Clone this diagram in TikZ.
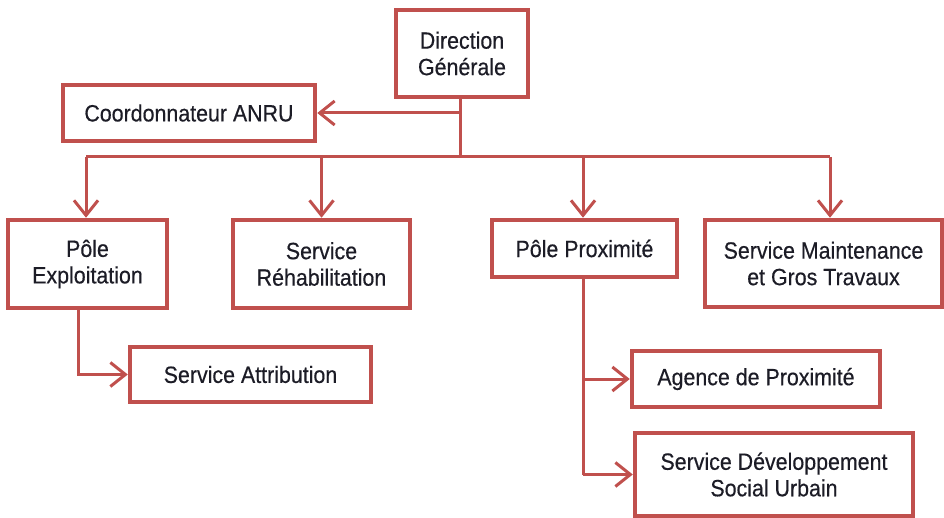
\documentclass[tikz,border=0pt]{standalone}
\usepackage{fontspec}
\setmainfont[FakeStretch=0.91,FakeBold=0.4]{Liberation Sans}
\usetikzlibrary{arrows.meta}
\definecolor{boxred}{HTML}{C0504D}
\definecolor{inktext}{HTML}{1C1C26}
\tikzset{
  unit/.style={draw=boxred, line width=4.5pt, fill=white, text=inktext,
    align=center, inner sep=0pt, font=\fontsize{23.5}{26.5}\selectfont},
  conn/.style={draw=boxred, line width=3pt},
  arr/.style={conn, -{Straight Barb[length=15pt,width=24pt,line width=3pt]}},
}
\begin{document}
\begin{tikzpicture}[x=1pt,y=-1pt]
  \useasboundingbox (0,0) rectangle (944,518);

  % units of the organisation
  \node[unit, minimum width=132pt, minimum height=87pt] (dg) at (462,53.5) {Direction\\Générale};
  \node[unit, minimum width=252pt, minimum height=56pt] (anru) at (189,113) {Coordonnateur ANRU};
  \node[unit, minimum width=159pt, minimum height=88pt] (pe) at (87.5,264) {Pôle\\Exploitation};
  \node[unit, minimum width=177pt, minimum height=88pt] (sr) at (321.5,264) {Service\\Réhabilitation};
  \node[unit, minimum width=185pt, minimum height=57pt] (pp) at (584.5,248.5) {Pôle Proximité};
  \node[unit, minimum width=237pt, minimum height=87pt] (sm) at (823.5,263.5) {Service Maintenance\\et Gros Travaux};
  \node[unit, minimum width=241pt, minimum height=55pt] (sa) at (250.5,374.5) {Service Attribution};
  \node[unit, minimum width=248pt, minimum height=56pt] (ap) at (756,379) {Agence de Proximité};
  \node[unit, minimum width=278pt, minimum height=83pt] (sd) at (774,474.5) {Service Développement\\Social Urbain};

  % distribution bus under the direction
  \coordinate (busL) at (86,157);
  \coordinate (busR) at (830,157);
  \coordinate (trunk) at (460,157);
  \coordinate (ppDown) at (583,0);
  \coordinate (peDown) at (78,0);

  \draw[conn] (trunk |- dg.south) -- (trunk);
  \draw[arr] (trunk |- anru.east) -- (anru.east);
  \draw[conn] (busL) -- (busR);
  \draw[arr] (busL) -- (busL |- pe.north);
  \draw[arr] (busL -| sr.north) -- (sr.north);
  \draw[arr] (busL -| ppDown) -- (ppDown |- pp.north);
  \draw[arr] (busR) -- (busR |- sm.north);

  % sub-units
  \draw[arr] (peDown |- pe.south) -- (peDown |- sa.west) -- (sa.west);
  \draw[conn] (ppDown |- pp.south) -- (ppDown |- sd.west);
  \draw[arr] (ppDown |- ap.west) -- (ap.west);
  \draw[arr] (ppDown |- sd.west) -- (sd.west);
\end{tikzpicture}
\end{document}
